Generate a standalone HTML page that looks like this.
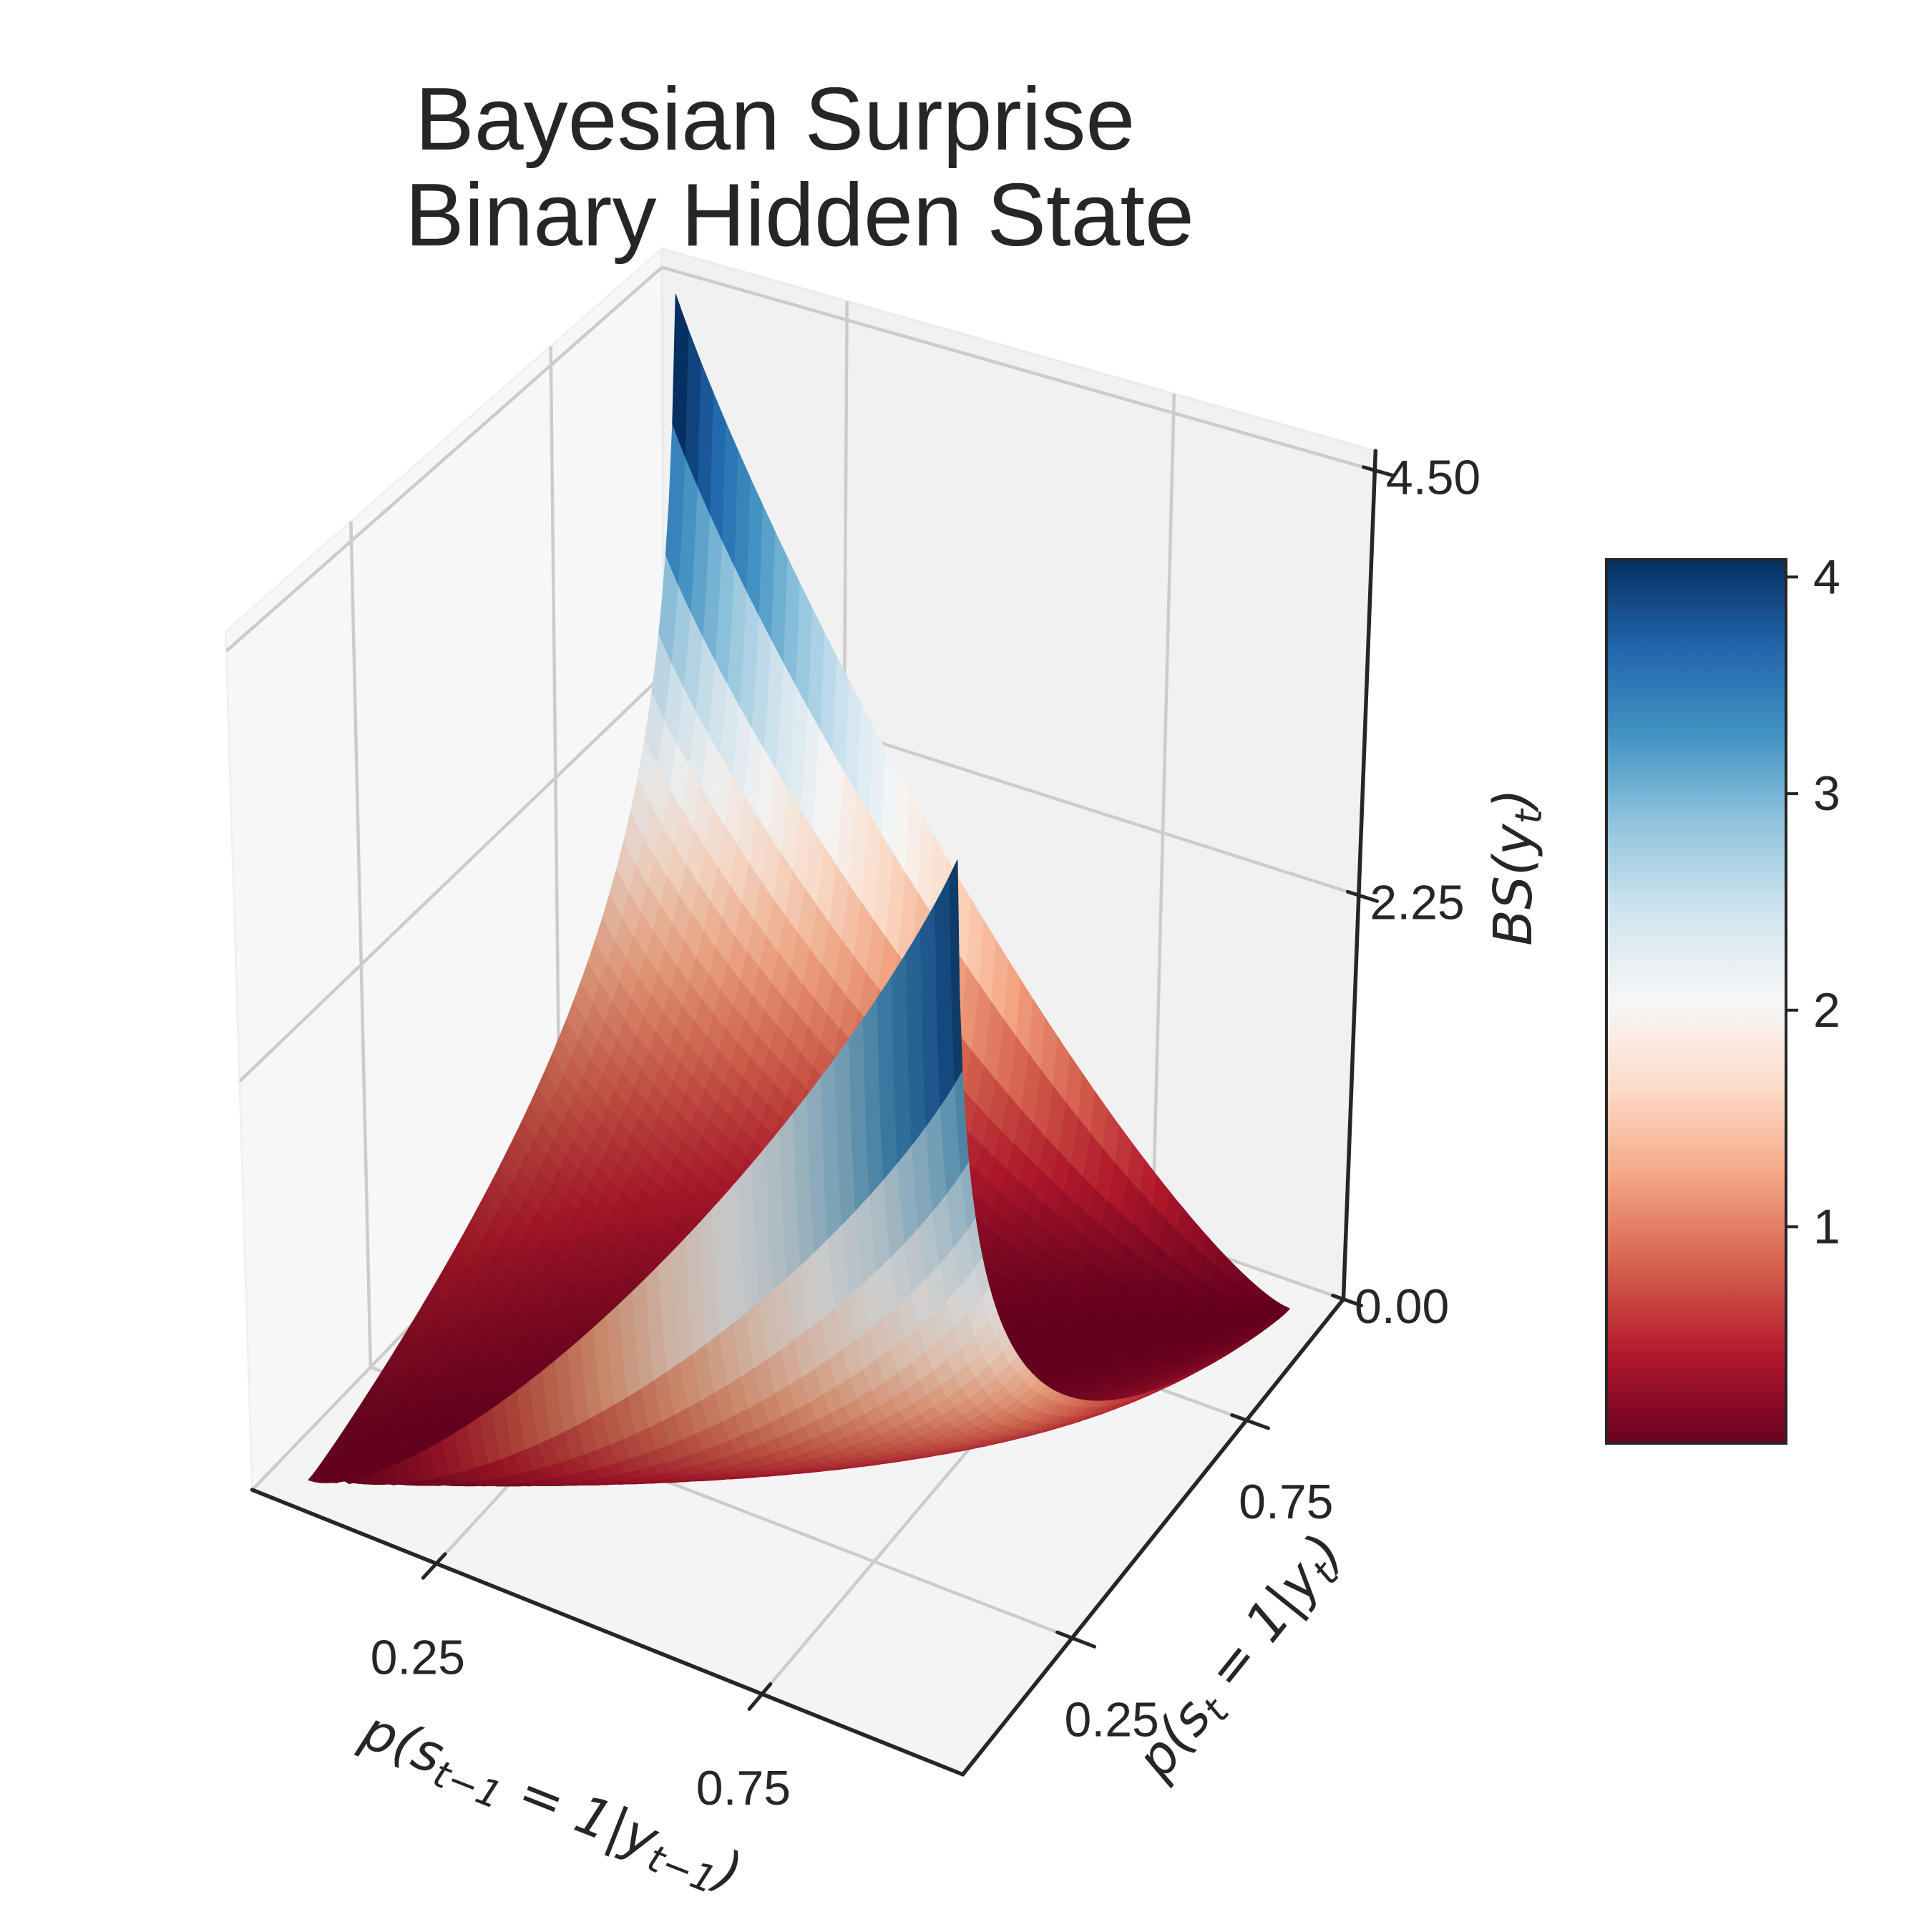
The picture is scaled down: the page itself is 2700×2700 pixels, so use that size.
<!DOCTYPE html>
<html>
<head>
<meta charset="utf-8">
<style>
  html, body { margin: 0; padding: 0; background: #ffffff; }
  #chart { display: block; }
  .tick-label { font-family: "Liberation Sans", "DejaVu Sans", sans-serif; font-size: 68px; fill: #262626; }
  .math { font-family: "DejaVu Sans", "Liberation Sans", sans-serif; font-style: italic; font-size: 74px; fill: #262626; }
  .title { font-family: "Liberation Sans", sans-serif; font-size: 124px; fill: #262626; }
</style>
</head>
<body>
<svg id="chart" xmlns="http://www.w3.org/2000/svg" width="2700" height="2700" viewBox="0 0 2700 2700">
  <rect x="0" y="0" width="2700" height="2700" fill="#ffffff"/>
  <g id="axes3d">
    <g id="panes"></g>
    <g id="grid"></g>
    <g id="axislines"></g>
    <g id="surface"></g>
    <g id="ticklabels"></g>
  </g>
  <text class="title" x="580" y="209">Bayesian Surprise</text>
  <text class="title" x="566" y="343">Binary Hidden State</text>

  <text class="math" text-anchor="middle" transform="translate(762,2541) rotate(21.5)">p(s<tspan font-size="52" dy="14">t−1</tspan><tspan dy="-14"> = 1|y</tspan><tspan font-size="52" dy="14">t−1</tspan><tspan dy="-14">)</tspan></text>
  <text class="math" text-anchor="middle" transform="translate(1752,2330) rotate(-51.4)">p(s<tspan font-size="52" dy="14">t</tspan><tspan dy="-14"> = 1|y</tspan><tspan font-size="52" dy="14">t</tspan><tspan dy="-14">)</tspan></text>
  <text class="math" text-anchor="middle" transform="translate(2140,1212) rotate(-90)">BS(y<tspan font-size="52" dy="14">t</tspan><tspan dy="-14">)</tspan></text>

  <defs>
    <linearGradient id="rdbu" x1="0" y1="1" x2="0" y2="0">
      <stop offset="0" stop-color="rgb(103,0,31)"/>
      <stop offset="0.1" stop-color="rgb(178,24,43)"/>
      <stop offset="0.2" stop-color="rgb(214,96,77)"/>
      <stop offset="0.3" stop-color="rgb(244,165,130)"/>
      <stop offset="0.4" stop-color="rgb(253,219,199)"/>
      <stop offset="0.5" stop-color="rgb(247,247,247)"/>
      <stop offset="0.6" stop-color="rgb(209,229,240)"/>
      <stop offset="0.7" stop-color="rgb(146,197,222)"/>
      <stop offset="0.8" stop-color="rgb(67,147,195)"/>
      <stop offset="0.9" stop-color="rgb(33,102,172)"/>
      <stop offset="1" stop-color="rgb(5,48,97)"/>
    </linearGradient>
  </defs>
  <g id="colorbar">
    <rect x="2245" y="782" width="251" height="1235" fill="url(#rdbu)" stroke="#262626" stroke-width="4"/>
  </g>
</svg>
<script>
// ---------------- chart data ----------------
const priorProb = Array.from({length: 100}, (_, i) => 0.01 + 0.98 * i / 99);
const postProb = Array.from({length: 100}, (_, i) => 0.01 + 0.98 * i / 99);
const xTickValues = [0.25, 0.75];
const yTickValues = [0.25, 0.75];
const zTickValues = [0, 2.25, 4.5];
const zTickLabels = ["0.00", "2.25", "4.50"];
const xTickLabels = ["0.25", "0.75"];
const yTickLabels = ["0.25", "0.75"];
const colorbarTicks = [1, 2, 3, 4];

// Bayesian surprise = KL divergence between Bernoulli prior and posterior
function bayesSurprise(p, q) {
  return p * Math.log(p / q) + (1 - p) * Math.log((1 - p) / (1 - q));
}

// ---------------- projection ----------------
const K = 2700 / 1560;
const XB = [-0.045, 1.045], YB = [-0.045, 1.045], ZB = [0, 4.6];
const calib = [
  [0,0,0,205,1203],[1,0,0,778,1432],[1,1,0,1085,1048],[0,0,1,183,518],
  [1,1,1,1110,367],[0,1,1,533,205],[0,0.725,1,440,275],[0,0.275,1,285,410],
  [0.275,1,1,690,248],[0.725,1,1,945,318],[1,1,0.489,1100,718],[1,1,0.978,1110,378],
  [0.275,0,0,355,1264],[0.725,0,0,612,1366],[1,0.275,0,866,1322],[1,0.725,0,1003,1152]
];
function solveLinear(M, r) {
  const n = r.length;
  for (let c = 0; c < n; c++) {
    let p = c;
    for (let i = c + 1; i < n; i++) if (Math.abs(M[i][c]) > Math.abs(M[p][c])) p = i;
    [M[c], M[p]] = [M[p], M[c]]; [r[c], r[p]] = [r[p], r[c]];
    for (let i = c + 1; i < n; i++) {
      const f = M[i][c] / M[c][c];
      for (let k = c; k < n; k++) M[i][k] -= f * M[c][k];
      r[i] -= f * r[c];
    }
  }
  const x = new Array(n).fill(0);
  for (let i = n - 1; i >= 0; i--) {
    let s = r[i];
    for (let k = i + 1; k < n; k++) s -= M[i][k] * x[k];
    x[i] = s / M[i][i];
  }
  return x;
}
const P = (function () {
  const A = [], b = [];
  calib.forEach(([X, Y, Z, u, v]) => {
    u /= 1000; v /= 1000;
    A.push([X, Y, Z, 1, 0, 0, 0, 0, -u * X, -u * Y, -u * Z]); b.push(u);
    A.push([0, 0, 0, 0, X, Y, Z, 1, -v * X, -v * Y, -v * Z]); b.push(v);
  });
  const M = [], r = [];
  for (let i = 0; i < 11; i++) {
    M.push(new Array(11).fill(0)); r.push(0);
    for (let k = 0; k < A.length; k++) {
      r[i] += A[k][i] * b[k];
      for (let j = 0; j < 11; j++) M[i][j] += A[k][i] * A[k][j];
    }
  }
  return solveLinear(M, r);
})();
function projN(X, Y, Z) {
  const w = P[8] * X + P[9] * Y + P[10] * Z + 1;
  return [(P[0] * X + P[1] * Y + P[2] * Z + P[3]) / w * 1000 * K,
          (P[4] * X + P[5] * Y + P[6] * Z + P[7]) / w * 1000 * K, w];
}
function nx(x) { return (x - XB[0]) / (XB[1] - XB[0]); }
function ny(y) { return (y - YB[0]) / (YB[1] - YB[0]); }
function nz(z) { return (z - ZB[0]) / (ZB[1] - ZB[0]); }
function projData(x, y, z) { return projN(nx(x), ny(y), nz(z)); }
const farSign = projN(0, 1, 1)[2] > projN(1, 0, 0)[2] ? 1 : -1;

const NS = 'http://www.w3.org/2000/svg';
function mk(tag, attrs, parent) {
  const e = document.createElementNS(NS, tag);
  for (const k in attrs) e.setAttribute(k, attrs[k]);
  parent.appendChild(e);
  return e;
}
function pts(list) { return list.map(p => p[0].toFixed(1) + ',' + p[1].toFixed(1)).join(' '); }

// ---------------- panes ----------------
const gP = document.getElementById('panes');
let el;
el = mk('polygon', {points: pts([projN(0,0,0), projN(1,0,0), projN(1,1,0), projN(0,1,0)]), fill: '#f4f4f4', stroke: '#f0f0f0', 'stroke-width': 3}, gP);


el = mk('polygon', {points: pts([projN(0,0,0), projN(0,1,0), projN(0,1,1), projN(0,0,1)]), fill: '#f7f7f7', stroke: '#f0f0f0', 'stroke-width': 3}, gP);


el = mk('polygon', {points: pts([projN(0,1,0), projN(1,1,0), projN(1,1,1), projN(0,1,1)]), fill: '#f1f1f1', stroke: '#ebebeb', 'stroke-width': 3}, gP);



// ---------------- gridlines ----------------
const gG = document.getElementById('grid');
function gline(a, b, name) {
  const l = mk('line', {x1: a[0], y1: a[1], x2: b[0], y2: b[1], stroke: '#cccccc', 'stroke-width': 4.5}, gG);
  
  
}
xTickValues.forEach(t => {
  const X = nx(t);
  gline(projN(X, 0, 0), projN(X, 1, 0), 'x-gridline-floor');
  gline(projN(X, 1, 0), projN(X, 1, 1), 'x-gridline-wall');
});
yTickValues.forEach(t => {
  const Y = ny(t);
  gline(projN(0, Y, 0), projN(1, Y, 0), 'y-gridline-floor');
  gline(projN(0, Y, 0), projN(0, Y, 1), 'y-gridline-wall');
});
zTickValues.forEach(t => {
  const Z = nz(t);
  gline(projN(0, 0, Z), projN(0, 1, Z), 'z-gridline-left');
  gline(projN(0, 1, Z), projN(1, 1, Z), 'z-gridline-back');
});

// ---------------- axis lines & ticks ----------------
const gA = document.getElementById('axislines');
function aline(a, b, name, w) {
  const l = mk('line', {x1: a[0], y1: a[1], x2: b[0], y2: b[1], stroke: '#262626', 'stroke-width': w, 'stroke-linecap': 'round'}, gA);
  
  
}
aline(projN(0, 0, 0), projN(1, 0, 0), 'x-axis-line', 5.5);
aline(projN(1, 0, 0), projN(1, 1, 0), 'y-axis-line', 5.5);
aline(projN(1, 1, 0), projN(1, 1, 1), 'z-axis-line', 5.5);

const gT = document.getElementById('ticklabels');
function tlabel(x, y, txt, anchor, name) {
  const t = mk('text', {x: x, y: y, 'text-anchor': anchor, 'dominant-baseline': 'central', class: 'tick-label'}, gT);
  t.textContent = txt;
  
  
}
xTickValues.forEach((t, i) => {
  const X = nx(t);
  aline(projN(X, -0.03, 0), projN(X, 0.02, 0), 'x-tick', 5);
  const p = projN(X, 0, 0);
  tlabel(p[0] - 15 * K, p[1] + 76 * K, xTickLabels[i], 'middle', 'x-tick-label');
});
yTickValues.forEach((t, i) => {
  const Y = ny(t);
  aline(projN(1.03, Y, 0), projN(0.98, Y, 0), 'y-tick', 5);
  const p = projN(1, Y, 0);
  tlabel(p[0] + 32 * K, p[1] + 66 * K, yTickLabels[i], 'middle', 'y-tick-label');
});
zTickValues.forEach((t, i) => {
  const Z = nz(t);
  aline(projN(1.025, 1, Z), projN(0.985, 1, Z), 'z-tick', 5);
  const p = projN(1, 1, Z);
  tlabel(p[0] + 9 * K, p[1] + 6 * K, zTickLabels[i], 'start', 'z-tick-label');
});

// ---------------- surface ----------------
const stops = [[103,0,31],[178,24,43],[214,96,77],[244,165,130],[253,219,199],[247,247,247],[209,229,240],[146,197,222],[67,147,195],[33,102,172],[5,48,97]];
function rdbu(t) {
  t = Math.max(0, Math.min(1, t)) * 10;
  const i = Math.min(9, Math.floor(t)), f = t - i;
  return stops[i].map((c, k) => c + (stops[i + 1][k] - c) * f);
}
const nX = priorProb.length, nY = postProb.length;
function inds(n) { const a = []; for (let i = 0; i < n - 1; i += 2) a.push(i); a.push(n - 1); return a; }
const colInds = inds(nX), rowInds = inds(nY);
const facets = [];
for (let r = 0; r < rowInds.length - 1; r++) {
  for (let c = 0; c < colInds.length - 1; c++) {
    const ja = rowInds[r], jb = rowInds[r + 1], ia = colInds[c], ib = colInds[c + 1];
    const per = [];
    for (let i = ia; i < ib; i++) per.push([i, ja]);
    for (let j = ja; j < jb; j++) per.push([ib, j]);
    for (let i = ib; i > ia; i--) per.push([i, jb]);
    for (let j = jb; j > ja; j--) per.push([ia, j]);
    const d = per.map(([i, j]) => [priorProb[i], postProb[j], bayesSurprise(priorProb[i], postProb[j])]);
    const avgZ = d.reduce((s, p) => s + p[2], 0) / d.length;
    const n = d.length, a = d[0], b = d[Math.floor(n / 3)], e = d[Math.floor(2 * n / 3)];
    const v1 = [a[0] - b[0], a[1] - b[1], a[2] - b[2]], v2 = [b[0] - e[0], b[1] - e[1], b[2] - e[2]];
    const nrm = [v1[1] * v2[2] - v1[2] * v2[1], v1[2] * v2[0] - v1[0] * v2[2], v1[0] * v2[1] - v1[1] * v2[0]];
    const mod = Math.hypot(nrm[0], nrm[1], nrm[2]);
    const shade = (-nrm[0] - nrm[1] + 0.5 * nrm[2]) / mod;
    const proj = d.map(p => projData(p[0], p[1], p[2]));
    const depth = proj.reduce((s, p) => s + p[2], 0) / proj.length;
    facets.push({avgZ, shade, proj, depth});
  }
}
const zMin = Math.min(...facets.map(f => f.avgZ)), zMax = Math.max(...facets.map(f => f.avgZ));
const sMin = Math.min(...facets.map(f => f.shade)), sMax = Math.max(...facets.map(f => f.shade));
facets.sort((p, q) => farSign * (q.depth - p.depth));
const gS = document.getElementById('surface');
facets.forEach(f => {
  const base = rdbu((f.avgZ - zMin) / (zMax - zMin));
  const k = 0.78 + 0.22 * (f.shade - sMin) / (sMax - sMin);
  const col = 'rgb(' + base.map(c => Math.min(255, Math.round(c * k))).join(',') + ')';
  const poly = mk('polygon', {points: pts(f.proj), fill: col, stroke: col, 'stroke-width': 1.2, 'stroke-linejoin': 'round'}, gS);
  
  
});

// ---------------- colorbar ticks ----------------
const gC = document.getElementById('colorbar');
const cbTop = 782, cbBot = 2017, cbRight = 2496;
colorbarTicks.forEach(v => {
  const y = cbBot - (v - zMin) / (zMax - zMin) * (cbBot - cbTop);
  const l = mk('line', {x1: cbRight, y1: y, x2: cbRight + 17, y2: y, stroke: '#262626', 'stroke-width': 4}, gC);
  
  
  const t = mk('text', {x: cbRight + 38, y: y, 'dominant-baseline': 'central', class: 'tick-label'}, gC);
  t.textContent = String(v);
  
  
});
</script>
</body>
</html>
